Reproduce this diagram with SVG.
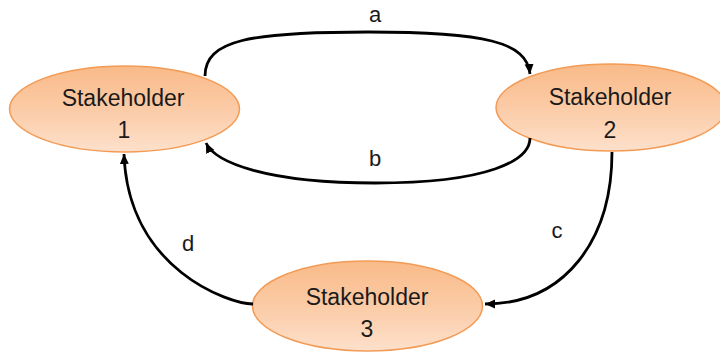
<svg xmlns="http://www.w3.org/2000/svg" width="720" height="354" viewBox="0 0 720 354">
<defs>
<linearGradient id="g" x1="0" y1="0" x2="0" y2="1">
<stop offset="0" stop-color="#F9BA88"/>
<stop offset="0.5" stop-color="#FBCBA6"/>
<stop offset="1" stop-color="#FDE0CB"/>
</linearGradient>
<marker id="ah" markerUnits="userSpaceOnUse" markerWidth="12" markerHeight="12" viewBox="0 0 12 12" refX="10" refY="6" orient="auto">
<path d="M0,1.5 L10,6 L0,10.5 z" fill="#000"/>
</marker>
<style>
.node{fill:url(#g);stroke:#F39B55;stroke-width:1.5}
.t{font-family:"Liberation Sans",Arial,sans-serif;font-size:23px;fill:#1a1a1a;text-anchor:middle}
.lbl{font-family:"Liberation Sans",Arial,sans-serif;font-size:22px;fill:#1a1a1a;text-anchor:middle}
.c{fill:none;stroke:#000;stroke-width:2.8;marker-end:url(#ah)}
</style>
</defs>
<g id="n1">
<ellipse class="node" cx="124.5" cy="109" rx="115" ry="43"/>
<text class="t" x="123" y="106">Stakeholder</text>
<text class="t" x="124" y="138">1</text>
</g>
<g id="n2">
<ellipse class="node" cx="611" cy="107.5" rx="115" ry="43.5"/>
<text class="t" x="610" y="105">Stakeholder</text>
<text class="t" x="610" y="138">2</text>
</g>
<g id="n3">
<ellipse class="node" cx="367.5" cy="306" rx="115" ry="45"/>
<text class="t" x="367" y="305">Stakeholder</text>
<text class="t" x="367" y="337">3</text>
</g>
<g id="connectors">
<path class="c" d="M205,76 C205,40 250,32 368,32 C485,32 527,42 530,74"/>
<path class="c" d="M530,138 C530,160 490,183 375,183 C265,183 215,162 206,143"/>
<path class="c" d="M612,152 C612,240 565,304 485,304"/>
<path class="c" d="M253,304 C230,304 128,270 124,154"/>
<text class="lbl" x="375" y="22">a</text>
<text class="lbl" x="375" y="166">b</text>
<text class="lbl" x="557" y="238">c</text>
<text class="lbl" x="188" y="251">d</text>
</g>
</svg>
